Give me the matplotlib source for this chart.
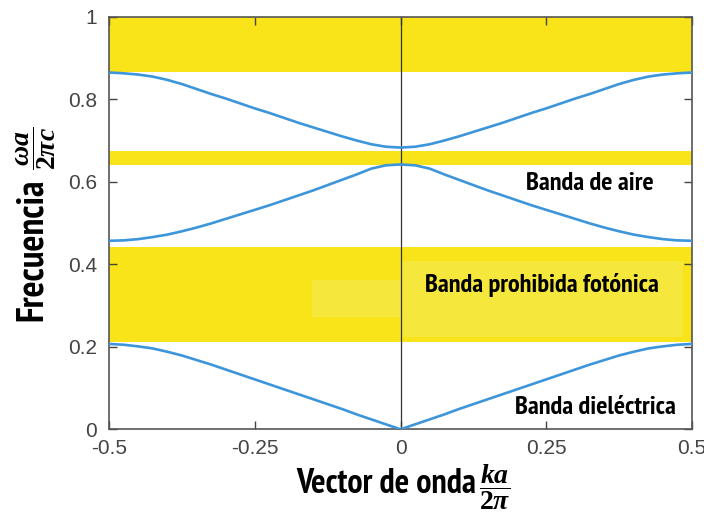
import numpy as np
import matplotlib.pyplot as plt
from matplotlib.patches import Rectangle

plt.rcParams['mathtext.fontset'] = 'custom'
plt.rcParams['mathtext.it'] = 'Liberation Serif:bold:italic'
plt.rcParams['mathtext.rm'] = 'Liberation Serif:bold'

narrow = ['Liberation Sans Narrow', 'Arial Narrow', 'PT Sans Narrow',
          'Liberation Sans']
tickfont = ['Liberation Sans', 'DejaVu Sans']

# half Brillouin zone, k = 0 .. 0.5 (bands are symmetric in k)
k_half = [0.0, 0.025, 0.05, 0.075, 0.1, 0.125, 0.15, 0.175, 0.2, 0.225, 0.25,
          0.275, 0.3, 0.325, 0.35, 0.375, 0.4, 0.425, 0.45, 0.475, 0.5]
band_dielectric = [0.0, 0.012, 0.024, 0.036, 0.049, 0.061, 0.073, 0.085, 0.097, 0.109, 0.121,
                   0.133, 0.145, 0.157, 0.168, 0.179, 0.188, 0.196, 0.201, 0.205, 0.207]
band_air = [0.642, 0.640, 0.632, 0.618, 0.605, 0.592, 0.579, 0.567, 0.555, 0.543, 0.532,
            0.521, 0.510, 0.499, 0.489, 0.480, 0.472, 0.466, 0.461, 0.458, 0.457]
band_third = [0.683, 0.685, 0.691, 0.700, 0.710, 0.721, 0.732, 0.743, 0.755, 0.767, 0.778,
              0.790, 0.802, 0.813, 0.825, 0.837, 0.847, 0.855, 0.860, 0.863, 0.865]

# forbidden frequency ranges (bottom, top)
gaps = [(0.211, 0.443), (0.641, 0.675), (0.865, 1.0)]

xticks = [-0.5, -0.25, 0, 0.25, 0.5]
xtick_labels = ['-0.5', '-0.25', '0', '0.25', '0.5']
yticks = [0, 0.2, 0.4, 0.6, 0.8, 1]
ytick_labels = ['0', '0.2', '0.4', '0.6', '0.8', '1']

k_half = np.array(k_half)
k_full = np.concatenate([-k_half[::-1], k_half[1:]])

def mirror(vals):
    vals = np.array(vals)
    return np.concatenate([vals[::-1], vals[1:]])

W, H = 704, 514
fig = plt.figure(figsize=(W / 100, H / 100), dpi=100)
ax = fig.add_axes([109 / W, 1 - 429.3 / H, 583 / W, 412.5 / H])

yellow = '#f8e418'
light = '#f6e73c'
for lo, hi in gaps:
    ax.axhspan(lo, hi, color=yellow, lw=0, zorder=1)

# lighter boxes behind the gap label
ax.add_patch(Rectangle((-0.151, 0.273), 0.151, 0.089, color=light, lw=0, zorder=1.5))
ax.add_patch(Rectangle((0.0, 0.224), 0.485, 0.185, color=light, lw=0, zorder=1.5))

blue = '#3d95da'
for band in (band_dielectric, band_air, band_third):
    ax.plot(k_full, mirror(band), color=blue, lw=1.9, zorder=3,
            solid_joinstyle='round')

ax.axvline(0, color='#333333', lw=0.9, zorder=2.5)

ax.set_xlim(-0.5, 0.5)
ax.set_ylim(0, 1)
ax.set_xticks(xticks)
ax.set_xticklabels(xtick_labels)
ax.set_yticks(yticks)
ax.set_yticklabels(ytick_labels)
ax.tick_params(direction='in', length=6, width=1, color='#444444',
               top=True, right=True, labelsize=15, labelcolor='#444444')
ax.tick_params(axis='x', pad=7)
ax.tick_params(axis='y', pad=8.5)
for lab in ax.get_xticklabels() + ax.get_yticklabels():
    lab.set_family(tickfont)
for sp in ax.spines.values():
    sp.set_color('#555555')
    sp.set_linewidth(1.2)

# axis titles: words in narrow bold, fractions in serif math
fig.text(476 / W, 1 - 493 / H, 'Vector de onda', fontsize=24.5, fontweight='bold',
         family=narrow, ha='right', va='baseline')
fig.text(479 / W, 1 - 487 / H, r'$\dfrac{ka}{2\pi}$', fontsize=20,
         ha='left', va='center')
fig.text(32 / W, 1 - 250 / H, 'Frecuencia', fontsize=27, fontweight='bold',
         family=narrow, rotation=90, ha='center', va='center')
fig.text(36 / W, 1 - 148 / H, r'$\dfrac{\omega a}{2\pi c}$', fontsize=20,
         rotation=90, ha='center', va='center')

txt = dict(fontsize=19, fontweight='bold', family=narrow, ha='center',
           va='center', zorder=4)
ax.text(0.325, 0.597, 'Banda de aire', **txt)
ax.text(0.242, 0.350, 'Banda prohibida fotónica', **txt)
ax.text(0.335, 0.052, 'Banda dieléctrica', **txt)

fig.savefig('out.png', dpi=100)
